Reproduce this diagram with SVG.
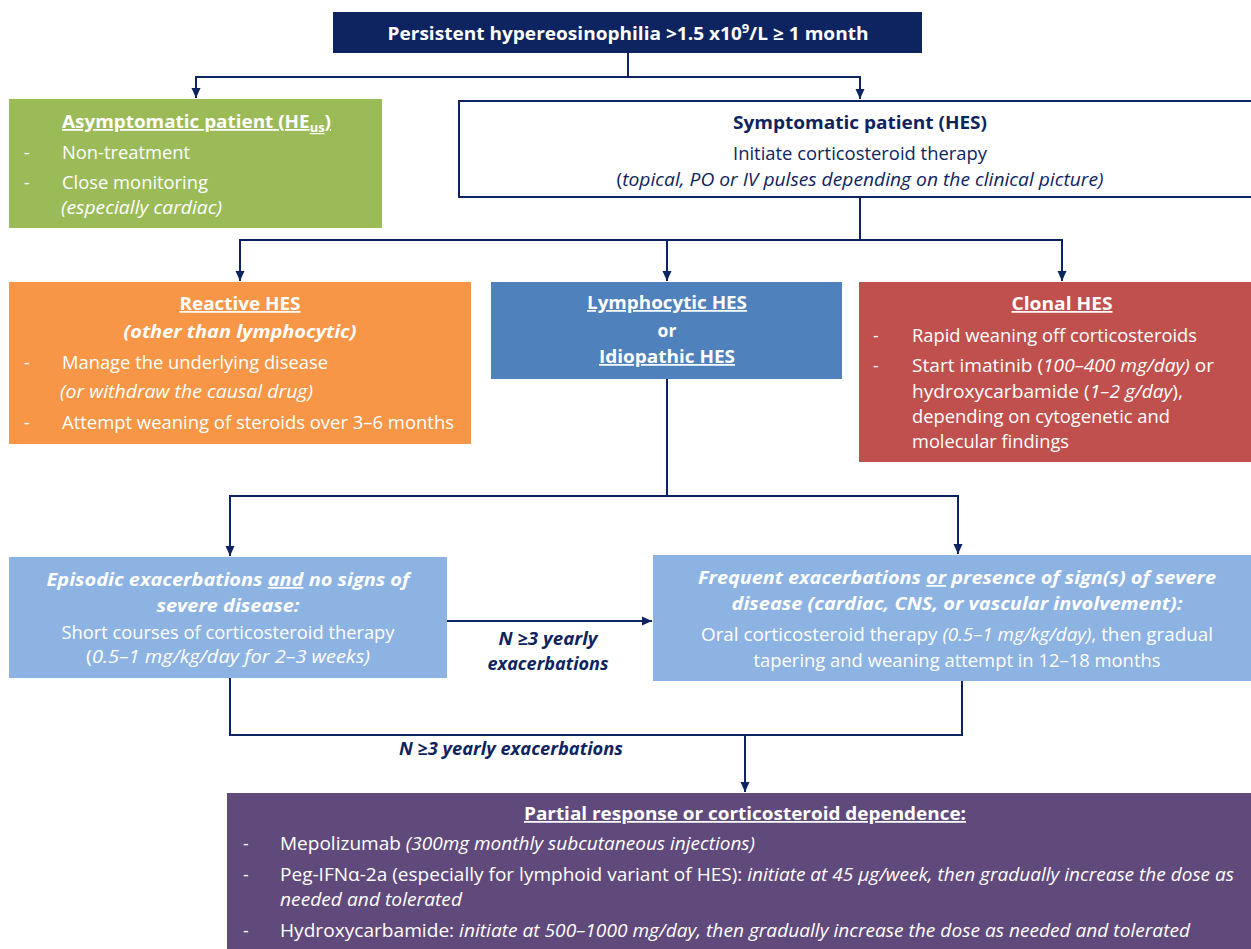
<svg xmlns="http://www.w3.org/2000/svg" width="1251" height="949" viewBox="0 0 1251 949">
<style>
text{font-family:"Open Sans","Noto Sans","Liberation Sans",sans-serif;font-size:17.5px;}
.w{fill:#ffffff;}
.n{fill:#0e2461;}
.b{font-weight:bold;}
.i{font-style:italic;}
.u{text-decoration:underline;}
.c{text-anchor:middle;}
.conn{fill:none;stroke:#0e2461;stroke-width:2;}
</style>
<defs>
<marker id="ah" markerUnits="userSpaceOnUse" markerWidth="11" markerHeight="10" refX="10" refY="5" orient="auto">
<path d="M0,0.5 L10,5 L0,9.5 z" fill="#0e2461"/>
</marker>
</defs>

<g id="connectors">
<path class="conn" d="M628,53 V77 H196 V98" marker-end="url(#ah)"/>
<path class="conn" d="M628,77 H860 V99" marker-end="url(#ah)"/>
<path class="conn" d="M860,197 V240 H240 V281" marker-end="url(#ah)"/>
<path class="conn" d="M860,240 H1062 V281" marker-end="url(#ah)"/>
<path class="conn" d="M667,240 V281" marker-end="url(#ah)"/>
<path class="conn" d="M667,379 V496 H230 V556" marker-end="url(#ah)"/>
<path class="conn" d="M667,496 H958 V554" marker-end="url(#ah)"/>
<path class="conn" d="M447,621 H652" marker-end="url(#ah)"/>
<path class="conn" d="M230,678 V735 H962 V681"/>
<path class="conn" d="M745,735 V792" marker-end="url(#ah)"/>
<text class="n b i c" x="548" y="645" textLength="99" lengthAdjust="spacingAndGlyphs">N ≥3 yearly</text>
<text class="n b i c" x="548" y="670" textLength="121" lengthAdjust="spacingAndGlyphs">exacerbations</text>
<text class="n b i c" x="511" y="755" textLength="224" lengthAdjust="spacingAndGlyphs">N ≥3 yearly exacerbations</text>
</g>

<g id="top">
<rect x="333" y="12" width="589" height="41" fill="#0e2461"/>
<text class="w b c" x="628" y="40" textLength="481" lengthAdjust="spacingAndGlyphs">Persistent hypereosinophilia &gt;1.5 x10<tspan font-size="12" dy="-7">9</tspan><tspan dy="7">/L ≥ 1 month</tspan></text>
</g>

<g id="asymptomatic">
<rect x="9" y="99" width="373" height="129" fill="#9bbb59"/>
<text class="w b u" x="62" y="128" textLength="269" lengthAdjust="spacingAndGlyphs">Asymptomatic patient (HE<tspan font-size="12" dy="4">us</tspan><tspan dy="-4">)</tspan></text>
<text class="w" x="24" y="159">-</text>
<text class="w" x="62" y="159" textLength="128" lengthAdjust="spacingAndGlyphs">Non-treatment</text>
<text class="w" x="24" y="189">-</text>
<text class="w" x="62" y="189" textLength="146" lengthAdjust="spacingAndGlyphs">Close monitoring</text>
<text class="w i" x="61" y="214" textLength="161" lengthAdjust="spacingAndGlyphs">(especially cardiac)</text>
</g>

<g id="symptomatic">
<rect x="459" y="101" width="800" height="96" fill="#ffffff" stroke="#0e2461" stroke-width="2"/>
<text class="n b c" x="860" y="129" textLength="254" lengthAdjust="spacingAndGlyphs">Symptomatic patient (HES)</text>
<text class="n c" x="860" y="160" textLength="254" lengthAdjust="spacingAndGlyphs">Initiate corticosteroid therapy</text>
<text class="n c" x="860" y="186" textLength="487" lengthAdjust="spacingAndGlyphs">(<tspan class="i">topical, PO or IV pulses depending on the clinical picture)</tspan></text>
</g>

<g id="reactive">
<rect x="9" y="282" width="462" height="162" fill="#f79646"/>
<text class="w b u c" x="240" y="310" textLength="121" lengthAdjust="spacingAndGlyphs">Reactive HES</text>
<text class="w b i c" x="240" y="338" textLength="233" lengthAdjust="spacingAndGlyphs">(other than lymphocytic)</text>
<text class="w" x="24" y="369">-</text>
<text class="w" x="62" y="369" textLength="266" lengthAdjust="spacingAndGlyphs">Manage the underlying disease</text>
<text class="w i" x="60" y="398" textLength="253" lengthAdjust="spacingAndGlyphs">(or withdraw the causal drug)</text>
<text class="w" x="24" y="429">-</text>
<text class="w" x="62" y="429" textLength="392" lengthAdjust="spacingAndGlyphs">Attempt weaning of steroids over 3–6 months</text>
</g>

<g id="lymphocytic">
<rect x="491" y="282" width="351" height="97" fill="#4f81bd"/>
<text class="w b u c" x="667" y="309" textLength="160" lengthAdjust="spacingAndGlyphs">Lymphocytic HES</text>
<text class="w b c" x="667" y="337">or</text>
<text class="w b u c" x="667" y="363" textLength="136" lengthAdjust="spacingAndGlyphs">Idiopathic HES</text>
</g>

<g id="clonal">
<rect x="859" y="282" width="392" height="180" fill="#c0504d"/>
<text class="w b u c" x="1062" y="310" textLength="101" lengthAdjust="spacingAndGlyphs">Clonal HES</text>
<text class="w" x="873" y="342">-</text>
<text class="w" x="912" y="342" textLength="285" lengthAdjust="spacingAndGlyphs">Rapid weaning off corticosteroids</text>
<text class="w" x="873" y="372">-</text>
<text class="w" x="912" y="372" textLength="302" lengthAdjust="spacingAndGlyphs">Start imatinib (<tspan class="i">100–400 mg/day)</tspan> or</text>
<text class="w" x="912" y="398" textLength="271" lengthAdjust="spacingAndGlyphs">hydroxycarbamide (<tspan class="i">1–2 g/day</tspan>),</text>
<text class="w" x="912" y="423" textLength="258" lengthAdjust="spacingAndGlyphs">depending on cytogenetic and</text>
<text class="w" x="912" y="448" textLength="157" lengthAdjust="spacingAndGlyphs">molecular findings</text>
</g>

<g id="episodic">
<rect x="9" y="557" width="438" height="121" fill="#8db3e2"/>
<text class="w b i c" x="228" y="586" textLength="363" lengthAdjust="spacingAndGlyphs">Episodic exacerbations <tspan class="u">and</tspan> no signs of</text>
<text class="w b i c" x="228" y="612" textLength="143" lengthAdjust="spacingAndGlyphs">severe disease:</text>
<text class="w c" x="228" y="639" textLength="333" lengthAdjust="spacingAndGlyphs">Short courses of corticosteroid therapy</text>
<text class="w c" x="228" y="663" textLength="284" lengthAdjust="spacingAndGlyphs">(<tspan class="i">0.5–1 mg/kg/day for 2–3 weeks)</tspan></text>
</g>

<g id="frequent">
<rect x="653" y="555" width="598" height="126" fill="#8db3e2"/>
<text class="w b i c" x="957" y="584" textLength="518" lengthAdjust="spacingAndGlyphs">Frequent exacerbations <tspan class="u">or</tspan> presence of sign(s) of severe</text>
<text class="w b i c" x="957" y="610" textLength="451" lengthAdjust="spacingAndGlyphs">disease (cardiac, CNS, or vascular involvement):</text>
<text class="w c" x="957" y="641" textLength="512" lengthAdjust="spacingAndGlyphs">Oral corticosteroid therapy <tspan class="i">(0.5–1 mg/kg/day)</tspan>, then gradual</text>
<text class="w c" x="957" y="667" textLength="407" lengthAdjust="spacingAndGlyphs">tapering and weaning attempt in 12–18 months</text>
</g>

<g id="partial">
<rect x="227" y="793" width="1024" height="156" fill="#604a7b"/>
<text class="w b u c" x="745" y="820" textLength="442" lengthAdjust="spacingAndGlyphs">Partial response or corticosteroid dependence:</text>
<text class="w" x="243" y="850">-</text>
<text class="w" x="280" y="850" textLength="475" lengthAdjust="spacingAndGlyphs">Mepolizumab <tspan class="i">(300mg monthly subcutaneous injections)</tspan></text>
<text class="w" x="243" y="881">-</text>
<text class="w" x="280" y="881" textLength="954" lengthAdjust="spacingAndGlyphs">Peg-IFNα-2a (especially for lymphoid variant of HES): <tspan class="i">initiate at 45 µg/week, then gradually increase the dose as</tspan></text>
<text class="w i" x="280" y="906" textLength="182" lengthAdjust="spacingAndGlyphs">needed and tolerated</text>
<text class="w" x="243" y="937">-</text>
<text class="w" x="280" y="937" textLength="910" lengthAdjust="spacingAndGlyphs">Hydroxycarbamide: <tspan class="i">initiate at 500–1000 mg/day, then gradually increase the dose as needed and tolerated</tspan></text>
</g>
</svg>
